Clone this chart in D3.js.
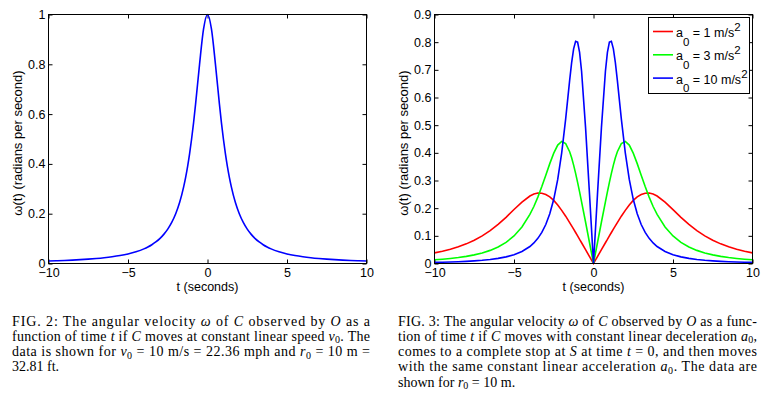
<!DOCTYPE html>
<html lang="en">
<head>
<meta charset="UTF-8">
<title>Angular velocity of C observed by O</title>
<script src="https://d3js.org/d3.v7.min.js"></script>
<style>
    body { margin: 0; background: #fff; }
    svg { display: block; background: #fff; }
    .axis text { font-family: "Liberation Sans", Arial, sans-serif; font-size: 12.5px; fill: #000; }
    .axis line { stroke: #000; }
    .axis-label { font-family: "Liberation Sans", Arial, sans-serif; font-size: 12.5px; text-anchor: middle; fill: #000; }
    .y-label { font-size: 13px; }
    .legend text { font-family: "Liberation Sans", Arial, sans-serif; font-size: 12.5px; fill: #000; }
    .caption { font-family: "Liberation Serif", "DejaVu Serif", serif; font-size: 14px; fill: #000; }
    .curve { fill: none; stroke-width: 1.6px; }
</style>
</head>
<body>
<svg id="chart" width="770" height="395"></svg>
<script>
// time samples (seconds), shared by both panels
const tValues = [-10, -9.5, -9, -8.5, -8, -7.5, -7, -6.5, -6, -5.5, -5, -4.5, -4, -3.75, -3.5, -3.25, -3, -2.75, -2.5, -2.25, -2, -1.75, -1.5, -1.375, -1.25, -1.125, -1, -0.875, -0.75, -0.5, -0.25,
    0, 0.25, 0.5, 0.75, 0.875, 1, 1.125, 1.25, 1.375, 1.5, 1.75, 2, 2.25, 2.5, 2.75, 3, 3.25, 3.5, 3.75, 4, 4.5, 5, 5.5, 6, 6.5, 7, 7.5, 8, 8.5, 9, 9.5, 10];

// FIG. 2: constant speed
const omegaConstSpeed = [0.0099, 0.011, 0.0122, 0.0137, 0.0154, 0.0175, 0.02, 0.0231, 0.027, 0.032, 0.0385, 0.0471, 0.0588, 0.0664, 0.0755, 0.0865, 0.1, 0.117, 0.138, 0.165, 0.2, 0.246, 0.308, 0.346, 0.39, 0.441, 0.5, 0.566, 0.64, 0.8, 0.941,
    1, 0.941, 0.8, 0.64, 0.566, 0.5, 0.441, 0.39, 0.346, 0.308, 0.246, 0.2, 0.165, 0.138, 0.117, 0.1, 0.0865, 0.0755, 0.0664, 0.0588, 0.0471, 0.0385, 0.032, 0.027, 0.0231, 0.02, 0.0175, 0.0154, 0.0137, 0.0122, 0.011, 0.0099];

// FIG. 3: constant deceleration / acceleration
const omegaA1 = [0.0385, 0.0445, 0.0517, 0.0605, 0.071, 0.084, 0.1, 0.119, 0.1415, 0.167, 0.195, 0.222, 0.244, 0.251, 0.2545, 0.254, 0.2495, 0.241, 0.228, 0.2115, 0.192, 0.171, 0.148, 0.136, 0.124, 0.112, 0.0998, 0.087, 0.075, 0.05, 0.025,
    0, 0.025, 0.05, 0.075, 0.087, 0.0998, 0.112, 0.124, 0.136, 0.148, 0.171, 0.192, 0.2115, 0.228, 0.241, 0.2495, 0.254, 0.2545, 0.251, 0.244, 0.222, 0.195, 0.167, 0.1415, 0.119, 0.1, 0.084, 0.071, 0.0605, 0.0517, 0.0445, 0.0385];
const omegaA3 = [0.0133, 0.0155, 0.0182, 0.0215, 0.0258, 0.0312, 0.0382, 0.0474, 0.0597, 0.0764, 0.0996, 0.132, 0.1775, 0.206, 0.24, 0.278, 0.319, 0.361, 0.399, 0.428, 0.441, 0.4335, 0.404, 0.382, 0.3555, 0.326, 0.293, 0.259, 0.223, 0.15, 0.075,
    0, 0.075, 0.15, 0.223, 0.259, 0.293, 0.326, 0.3555, 0.382, 0.404, 0.4335, 0.441, 0.428, 0.399, 0.361, 0.319, 0.278, 0.24, 0.206, 0.1775, 0.132, 0.0996, 0.0764, 0.0597, 0.0474, 0.0382, 0.0312, 0.0258, 0.0215, 0.0182, 0.0155, 0.0133];
const omegaA10 = [0.004, 0.0047, 0.0055, 0.0065, 0.0078, 0.0095, 0.0116, 0.0145, 0.0185, 0.0239, 0.0318, 0.0435, 0.0615, 0.0743, 0.091, 0.1125, 0.141, 0.18, 0.232, 0.304, 0.4, 0.523, 0.662, 0.726, 0.776, 0.803, 0.8, 0.763, 0.695, 0.492, 0.25,
    0, 0.25, 0.492, 0.695, 0.763, 0.8, 0.803, 0.776, 0.726, 0.662, 0.523, 0.4, 0.304, 0.232, 0.18, 0.141, 0.1125, 0.091, 0.0743, 0.0615, 0.0435, 0.0318, 0.0239, 0.0185, 0.0145, 0.0116, 0.0095, 0.0078, 0.0065, 0.0055, 0.0047, 0.004];

const accelValues = ['1', '3', '10'];
const accelColors = ['#ff0000', '#00ff00', '#0000ff'];

const xTicks = [-10, -5, 0, 5, 10];
const yTicksFig2 = [0, 0.2, 0.4, 0.6, 0.8, 1];
const yTicksFig3 = [0, 0.1, 0.2, 0.3, 0.4, 0.5, 0.6, 0.7, 0.8, 0.9];

const captionFig2 = [
    'FIG. 2: The angular velocity *ω* of *C* observed by *O* as a',
    'function of time *t* if *C* moves at constant linear speed *v*_0. The',
    'data is shown for *v*_0 = 10 m/s = 22.36 mph and *r*_0 = 10 m =',
    '32.81 ft.'
];
const captionFig3 = [
    'FIG. 3: The angular velocity *ω* of *C* observed by *O* as a func-',
    'tion of time *t* if *C* moves with constant linear deceleration *a*_0,',
    'comes to a complete stop at *S* at time *t* = 0, and then moves',
    'with the same constant linear acceleration *a*_0. The data are',
    'shown for *r*_0 = 10 m.'
];

const svg = d3.select('#chart');
const plotW = 318, plotH = 249, plotTop = 14;

function drawPanel(left, yMax, yTicks, series, curve) {
    const g = svg.append('g').attr('transform', `translate(${left + 0.5}, ${plotTop + 0.5})`);
    const x = d3.scaleLinear().domain([-10, 10]).range([0, plotW]);
    const y = d3.scaleLinear().domain([0, yMax]).range([plotH, 0]);
    const fmt = d3.format('~g');

    g.append('g').attr('class', 'axis').attr('transform', `translate(0, ${plotH})`)
        .call(d3.axisBottom(x).tickValues(xTicks).tickSize(-4).tickPadding(5).tickFormat(fmt))
        .call(a => a.select('.domain').remove());
    g.append('g').attr('class', 'axis')
        .call(d3.axisTop(x).tickValues(xTicks).tickSize(-4).tickFormat(''))
        .call(a => a.select('.domain').remove());
    g.append('g').attr('class', 'axis')
        .call(d3.axisLeft(y).tickValues(yTicks).tickSize(-4).tickPadding(3).tickFormat(fmt))
        .call(a => a.select('.domain').remove());
    g.append('g').attr('class', 'axis').attr('transform', `translate(${plotW}, 0)`)
        .call(d3.axisRight(y).tickValues(yTicks).tickSize(-4).tickFormat(''))
        .call(a => a.select('.domain').remove());

    const line = d3.line().x((d, i) => x(tValues[i])).y(d => y(d)).curve(curve);
    series.forEach(s => {
        g.append('path').attr('class', 'curve').attr('stroke', s.color).attr('d', line(s.values));
    });

    g.append('rect').attr('width', plotW).attr('height', plotH)
        .attr('fill', 'none').attr('stroke', '#000').attr('stroke-width', 1);

    g.append('text').attr('class', 'axis-label')
        .attr('x', plotW / 2).attr('y', 276)
        .text('t (seconds)');
    g.append('text').attr('class', 'axis-label y-label')
        .attr('transform', `translate(-27, ${plotH / 2 + 4}) rotate(-90)`)
        .text('ω(t) (radians per second)');
    return g;
}

drawPanel(48, 1, yTicksFig2, [{ values: omegaConstSpeed, color: '#0000ff' }], d3.curveMonotoneX);

const fig3 = drawPanel(434, 0.9, yTicksFig3, [
    { values: omegaA1, color: accelColors[0] },
    { values: omegaA3, color: accelColors[1] },
    { values: omegaA10, color: accelColors[2] }
], d3.curveLinear);

// legend
const legend = fig3.append('g').attr('class', 'legend').attr('transform', 'translate(214, 3)');
legend.append('rect').attr('width', 101).attr('height', 76)
    .attr('fill', '#fff').attr('stroke', '#000').attr('stroke-width', 1);
accelValues.forEach((a, i) => {
    const rowY = 14 + i * 23.3;
    legend.append('line').attr('x1', 4.5).attr('x2', 24.5).attr('y1', rowY).attr('y2', rowY)
        .attr('stroke', accelColors[i]).attr('stroke-width', 1.6);
    const t = legend.append('text').attr('x', 27.5).attr('y', rowY + 5.5);
    t.append('tspan').text('a');
    t.append('tspan').attr('dy', 8.5).style('font-size', '11.5px').text('0');
    t.append('tspan').attr('dy', -8.5).text(` = ${a} m/s`);
    t.append('tspan').attr('dy', -6).style('font-size', '11.5px').text('2');
});

// captions, justified except for the last line
function drawCaption(lines, x, width) {
    lines.forEach((line, i) => {
        const text = svg.append('text').attr('class', 'caption')
            .attr('x', x).attr('y', 325.5 + i * 15.3);
        if (i < lines.length - 1) text.attr('textLength', width).attr('lengthAdjust', 'spacing');
        let shifted = false;
        line.split(/(\*[^*]+\*|_0)/).filter(s => s).forEach(part => {
            if (part === '_0') {
                text.append('tspan').attr('dy', 2.5).style('font-size', '10px').text('0');
                shifted = true;
                return;
            }
            const span = text.append('tspan');
            if (shifted) { span.attr('dy', -2.5); shifted = false; }
            if (part.startsWith('*')) span.style('font-style', 'italic').text(part.slice(1, -1));
            else span.text(part);
        });
    });
}
drawCaption(captionFig2, 12, 358);
drawCaption(captionFig3, 398, 359);
</script>
</body>
</html>
